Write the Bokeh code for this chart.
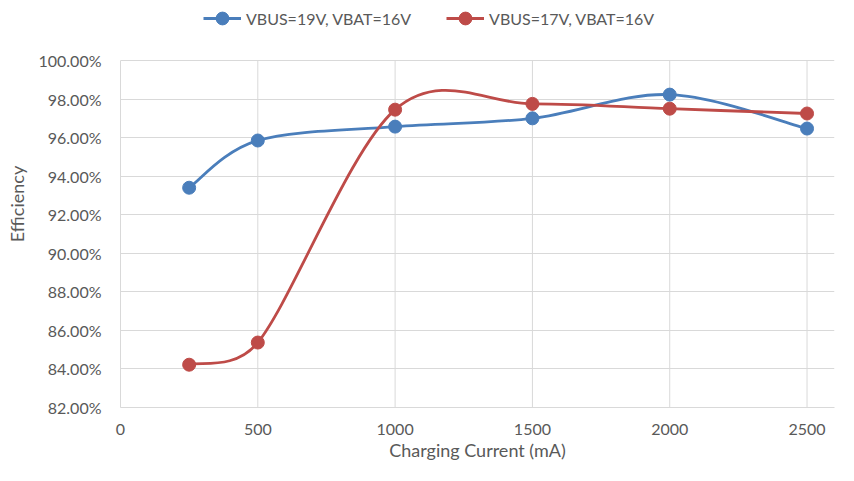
import math
from bokeh.plotting import figure
from bokeh.models import Legend, LegendItem, PrintfTickFormatter, FixedTicker, Range1d
from bokeh.embed import file_html
from bokeh.resources import INLINE

# ---- data ----
current_ma = [250, 500, 1000, 1500, 2000, 2500]
eff_vbus19 = [93.40, 95.85, 96.57, 97.00, 98.23, 96.47]
eff_vbus17 = [84.22, 85.37, 97.45, 97.75, 97.50, 97.25]
series_names = ["VBUS=19V, VBAT=16V", "VBUS=17V, VBAT=16V"]
series_colors = ["#4a7ebb", "#be4b48"]
x_ticks = [0, 500, 1000, 1500, 2000, 2500]
y_ticks = [82, 84, 86, 88, 90, 92, 94, 96, 98, 100]

FONT = "Lato"
TXT = "#595959"
GRID = "#d9d9d9"

W, H = 838, 465
BL, BR, BB = 120, 4, 58
PLOT_TOP_PX = 60            # pixel row of the 100% line
XMIN, XMAX, YMIN, YMAX = 0, 2600, 82, 100
sx = (W - BL - BR) / (XMAX - XMIN)
sy = (H - PLOT_TOP_PX - BB) / (YMAX - YMIN)
Y_VIEW_TOP = YMAX + PLOT_TOP_PX / sy   # room above the plot area for the legend


def smooth_segments(xs, ys):
    """Excel-style smoothed-line Bezier control points (computed in screen-proportional space)."""
    pts = [(x * sx, y * sy) for x, y in zip(xs, ys)]
    n = len(pts)
    out = {k: [] for k in ("x0", "y0", "x1", "y1", "cx0", "cy0", "cx1", "cy1")}
    dist = lambda a, b: math.hypot(a[0] - b[0], a[1] - b[1])
    for i in range(n - 1):
        p0 = pts[i - 1] if i > 0 else pts[i]
        p1, p2 = pts[i], pts[i + 1]
        p3 = pts[i + 2] if i + 2 < n else pts[i + 1]
        d12 = dist(p1, p2)
        d02 = dist(p0, p2)
        d13 = dist(p1, p3)
        f1 = f2 = 1 / 6
        if d02 / 6 >= d12 / 2 and d02 > 0:
            f1 = d12 / 2 / d02
        if d13 / 6 >= d12 / 2 and d13 > 0:
            f2 = d12 / 2 / d13
        c1 = (p1[0] + f1 * (p2[0] - p0[0]), p1[1] + f1 * (p2[1] - p0[1]))
        c2 = (p2[0] - f2 * (p3[0] - p1[0]), p2[1] - f2 * (p3[1] - p1[1]))
        out["x0"].append(p1[0] / sx); out["y0"].append(p1[1] / sy)
        out["x1"].append(p2[0] / sx); out["y1"].append(p2[1] / sy)
        out["cx0"].append(c1[0] / sx); out["cy0"].append(c1[1] / sy)
        out["cx1"].append(c2[0] / sx); out["cy1"].append(c2[1] / sy)
    return out


p = figure(width=W, height=H, output_backend="svg", toolbar_location=None,
           title_location=None,
           x_range=Range1d(XMIN, XMAX), y_range=Range1d(YMIN, Y_VIEW_TOP),
           min_border_left=BL, min_border_right=BR, min_border_top=0, min_border_bottom=BB)
p.outline_line_color = None
p.background_fill_color = "white"
p.border_fill_color = "white"

# grid: horizontal lines from the y ticker, vertical lines limited to the plot area
p.ygrid.ticker = FixedTicker(ticks=y_ticks)
p.ygrid.grid_line_color = GRID
p.xgrid.visible = False
p.segment(x0=x_ticks, y0=[YMIN] * len(x_ticks), x1=x_ticks, y1=[YMAX] * len(x_ticks),
          line_color=GRID, line_width=1)

p.xaxis.ticker = FixedTicker(ticks=x_ticks)
p.yaxis.ticker = FixedTicker(ticks=y_ticks)
p.yaxis.bounds = (YMIN, YMAX)
p.yaxis.formatter = PrintfTickFormatter(format="%.2f%%")

for ax in (p.xaxis[0], p.yaxis[0]):
    ax.axis_line_color = GRID
    ax.major_tick_line_color = None
    ax.minor_tick_line_color = None
    ax.major_tick_out = 0
    ax.major_tick_in = 0
    ax.major_label_text_font = FONT
    ax.major_label_text_font_size = "16px"
    ax.major_label_text_color = TXT
    ax.axis_label_text_font = FONT
    ax.axis_label_text_font_size = "18px"
    ax.axis_label_text_font_style = "normal"
    ax.axis_label_text_color = TXT

p.xaxis.axis_label = "Charging Current (mA)"
p.yaxis.axis_label = "Efficiency"
p.xaxis.major_label_standoff = 16
p.xaxis.axis_label_standoff = 1
p.yaxis.major_label_standoff = 19
p.yaxis.axis_label_standoff = 8

items = []
for name, ys, col in zip(series_names, [eff_vbus19, eff_vbus17], series_colors):
    seg = smooth_segments(current_ma, ys)
    r1 = p.bezier(x0=seg["x0"], y0=seg["y0"], x1=seg["x1"], y1=seg["y1"],
                  cx0=seg["cx0"], cy0=seg["cy0"], cx1=seg["cx1"], cy1=seg["cy1"],
                  line_color=col, line_width=2.8)
    r2 = p.scatter(current_ma, ys, size=13, fill_color=col, line_color=col, marker="circle")
    items.append(LegendItem(label=name, renderers=[r1, r2]))

legend = Legend(items=items, orientation="horizontal", location=(83, 373),
                glyph_width=38, glyph_height=32, label_height=32, label_standoff=5,
                spacing=35, padding=0, margin=0,
                label_text_font=FONT, label_text_font_size="16px", label_text_color=TXT,
                border_line_color=None, background_fill_alpha=0)
p.add_layout(legend, "center")

open("out.html", "w").write(file_html(p, INLINE))
